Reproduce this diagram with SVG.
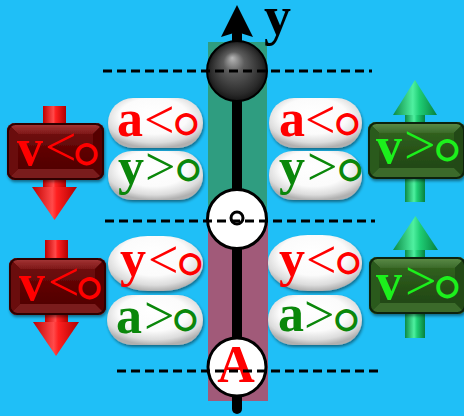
<svg xmlns="http://www.w3.org/2000/svg" width="464" height="416" viewBox="0 0 464 416">
  <defs>
    <radialGradient id="ballGrad" cx="50%" cy="50%" r="50%" fx="42%" fy="28%">
      <stop offset="0" stop-color="#b8b8b8"/>
      <stop offset="0.35" stop-color="#5c5c5c"/>
      <stop offset="0.85" stop-color="#2a2a2a"/>
      <stop offset="1" stop-color="#151515"/>
    </radialGradient>
    <radialGradient id="pillGrad" cx="50%" cy="40%" r="60%" fx="45%" fy="30%">
      <stop offset="0" stop-color="#ffffff"/>
      <stop offset="0.6" stop-color="#fbfbfb"/>
      <stop offset="0.85" stop-color="#dcdcdc"/>
      <stop offset="1" stop-color="#b0b0b0"/>
    </radialGradient>
    <linearGradient id="redShaft" x1="0" y1="0" x2="1" y2="0">
      <stop offset="0" stop-color="#c00000"/>
      <stop offset="0.45" stop-color="#ff4a4a"/>
      <stop offset="0.55" stop-color="#ff2020"/>
      <stop offset="1" stop-color="#b00000"/>
    </linearGradient>
    <linearGradient id="greenShaft" x1="0" y1="0" x2="1" y2="0">
      <stop offset="0" stop-color="#0b8a45"/>
      <stop offset="0.45" stop-color="#4ff0a0"/>
      <stop offset="0.6" stop-color="#1fcf75"/>
      <stop offset="1" stop-color="#07803e"/>
    </linearGradient>
    <linearGradient id="redTop" x1="0" y1="0" x2="0" y2="1">
      <stop offset="0" stop-color="#a83838"/>
      <stop offset="1" stop-color="#7e1818"/>
    </linearGradient>
    <linearGradient id="redFace" x1="0" y1="0" x2="0" y2="1">
      <stop offset="0" stop-color="#6e0c0c"/>
      <stop offset="0.5" stop-color="#5e0404"/>
      <stop offset="1" stop-color="#520000"/>
    </linearGradient>
    <linearGradient id="greenTop" x1="0" y1="0" x2="0" y2="1">
      <stop offset="0" stop-color="#5f8f4a"/>
      <stop offset="1" stop-color="#3c6a2a"/>
    </linearGradient>
    <linearGradient id="greenFace" x1="0" y1="0" x2="0" y2="1">
      <stop offset="0" stop-color="#30601f"/>
      <stop offset="0.5" stop-color="#285218"/>
      <stop offset="1" stop-color="#224814"/>
    </linearGradient>
    <filter id="shadow" x="-20%" y="-20%" width="140%" height="150%">
      <feDropShadow dx="1" dy="2" stdDeviation="1.5" flood-color="#000" flood-opacity="0.45"/>
    </filter>
    <clipPath id="boxClip">
      <rect x="0" y="0" width="97" height="57" rx="8"/>
    </clipPath>

    <!-- bevelled box bodies, drawn at the origin -->
    <g id="redBody">
      <g clip-path="url(#boxClip)">
        <rect x="0" y="0" width="97" height="57" fill="#4a0000"/>
        <polygon points="0,0 97,0 86,11 11,11" fill="url(#redTop)"/>
        <polygon points="0,0 11,11 11,46 0,57" fill="#6a0c0c"/>
        <polygon points="97,0 86,11 86,46 97,57" fill="#560404"/>
        <polygon points="0,57 11,46 86,46 97,57" fill="#7a1c1c"/>
        <rect x="11" y="11" width="75" height="35" fill="url(#redFace)"/>
      </g>
      <rect x="1" y="1" width="95" height="55" rx="7.5" fill="none" stroke="#2e0000" stroke-width="2"/>
    </g>
    <g id="greenBody">
      <g clip-path="url(#boxClip)">
        <rect x="0" y="0" width="97" height="57" fill="#1a3a10"/>
        <polygon points="0,0 97,0 86,11 11,11" fill="url(#greenTop)"/>
        <polygon points="0,0 11,11 11,46 0,57" fill="#2c5a1e"/>
        <polygon points="97,0 86,11 86,46 97,57" fill="#224a16"/>
        <polygon points="0,57 11,46 86,46 97,57" fill="#3a6a2a"/>
        <rect x="11" y="11" width="75" height="35" fill="url(#greenFace)"/>
      </g>
      <rect x="1" y="1" width="95" height="55" rx="7.5" fill="none" stroke="#0e2208" stroke-width="2"/>
    </g>
  </defs>
  <style>
    .guide { stroke: #000; stroke-width: 3; stroke-dasharray: 9 5; fill: none; }
    .pill { fill: url(#pillGrad); filter: url(#shadow); }
    .box { filter: url(#shadow); }
    .lbl { font-family: "Liberation Serif", "Times New Roman", serif; font-weight: bold; font-size: 52px; }
    .rel { font-weight: normal; font-size: 54px; }
    .relBig { font-weight: normal; font-size: 56px; }
    .zero { font-family: "DejaVu Sans", sans-serif; font-weight: normal; font-size: 26px; stroke-width: 2.2; }
    .red { fill: #ff0000; stroke: #ff0000; stroke-width: 0; }
    .dgreen { fill: #0a870a; stroke: #0a870a; stroke-width: 0; }
    .lgreen { fill: #1cf01c; stroke: #1cf01c; stroke-width: 0; }
  </style>

  <!-- sky background -->
  <rect x="0" y="0" width="464" height="416" fill="#1fbff7"/>

  <!-- vertical motion strips: upper and lower halves -->
  <rect x="208" y="42" width="59" height="177" fill="#2f9d80"/>
  <rect x="208" y="219" width="60" height="182" fill="#a15a79"/>

  <!-- y axis -->
  <g id="axis">
    <line x1="237" y1="34" x2="237" y2="409" stroke="#000" stroke-width="10" stroke-linecap="round"/>
    <polygon points="237,5 253,37 237,32 221,37" fill="#000"/>
    <text x="264" y="34" class="lbl" style="font-size:54px" fill="#000">y</text>
  </g>

  <!-- positions on the axis -->
  <g id="top-ball">
    <circle cx="237" cy="71" r="30" fill="url(#ballGrad)" stroke="#000" stroke-width="2"/>
  </g>
  <g id="origin">
    <circle cx="237" cy="219" r="29.5" fill="#fff" stroke="#000" stroke-width="3"/>
    <circle cx="237" cy="218" r="6" fill="#fff" stroke="#000" stroke-width="3"/>
  </g>
  <g id="point-a">
    <circle cx="237" cy="367" r="29" fill="#fff" stroke="#000" stroke-width="3"/>
    <text x="236" y="382" class="lbl" text-anchor="middle" fill="#ff0000">A</text>
  </g>

  <!-- dashed level lines -->
  <g id="connectors">
    <line class="guide" x1="103" y1="71" x2="372" y2="71"/>
    <line class="guide" x1="105" y1="221" x2="375" y2="221"/>
    <line class="guide" x1="117" y1="371" x2="383" y2="371"/>
  </g>

  <!-- velocity arrows -->
  <g id="arrow-down-1">
    <rect x="43" y="106" width="23" height="82" fill="url(#redShaft)"/>
    <polygon points="32,187 77,187 54.5,220" fill="url(#redShaft)"/>
  </g>
  <g id="arrow-down-2">
    <rect x="45" y="240" width="23" height="83" fill="url(#redShaft)"/>
    <polygon points="33,322 79,322 56,356" fill="url(#redShaft)"/>
  </g>
  <g id="arrow-up-1">
    <rect x="405" y="114" width="20" height="88" fill="url(#greenShaft)"/>
    <polygon points="415,80 437,115 393,115" fill="url(#greenShaft)"/>
  </g>
  <g id="arrow-up-2">
    <rect x="405" y="249" width="20" height="89" fill="url(#greenShaft)"/>
    <polygon points="415.5,216 438,250 393,250" fill="url(#greenShaft)"/>
  </g>

  <!-- velocity boxes -->
  <g id="box-v-neg-1">
    <use href="#redBody" x="7" y="123" class="box"/>
    <text class="lbl red" y="165"><tspan x="17">v</tspan><tspan class="relBig" x="45" y="166">&lt;</tspan><tspan class="zero" x="75" y="161">○</tspan></text>
  </g>
  <g id="box-v-neg-2">
    <use href="#redBody" x="9" y="258" class="box"/>
    <text class="lbl red" y="300"><tspan x="19">v</tspan><tspan class="relBig" x="48" y="301">&lt;</tspan><tspan class="zero" x="78" y="295">○</tspan></text>
  </g>
  <g id="box-v-pos-1">
    <use href="#greenBody" x="368" y="122" class="box"/>
    <text class="lbl lgreen" y="163"><tspan x="376">v</tspan><tspan class="relBig" x="404" y="164">&gt;</tspan><tspan class="zero" x="436" y="157">○</tspan></text>
  </g>
  <g id="box-v-pos-2">
    <use href="#greenBody" x="369" y="257" class="box"/>
    <text class="lbl lgreen" y="299"><tspan x="376">v</tspan><tspan class="relBig" x="405" y="300">&gt;</tspan><tspan class="zero" x="436" y="294">○</tspan></text>
  </g>

  <!-- condition pills, upper half -->
  <g id="pill-a-neg-left">
    <rect x="108" y="98" width="95" height="50" rx="25" class="pill"/>
    <text class="lbl red" y="136"><tspan x="117">a</tspan><tspan class="rel" x="144" y="138">&lt;</tspan><tspan class="zero" x="175" y="131">○</tspan></text>
  </g>
  <g id="pill-y-pos-left">
    <rect x="108" y="151" width="95" height="49" rx="24" class="pill"/>
    <text class="lbl dgreen" y="184"><tspan x="118">y</tspan><tspan class="rel" x="145" y="185">&gt;</tspan><tspan class="zero" x="177" y="177">○</tspan></text>
  </g>
  <g id="pill-a-neg-right">
    <rect x="269" y="98" width="93" height="50" rx="25" class="pill"/>
    <text class="lbl red" y="136"><tspan x="279">a</tspan><tspan class="rel" x="305" y="138">&lt;</tspan><tspan class="zero" x="336" y="131">○</tspan></text>
  </g>
  <g id="pill-y-pos-right">
    <rect x="269" y="151" width="93" height="49" rx="24" class="pill"/>
    <text class="lbl dgreen" y="184"><tspan x="279">y</tspan><tspan class="rel" x="307" y="185">&gt;</tspan><tspan class="zero" x="339" y="177">○</tspan></text>
  </g>

  <!-- condition pills, lower half -->
  <g id="pill-y-neg-left">
    <rect x="108" y="236" width="95" height="55" rx="40" ry="27" class="pill"/>
    <text class="lbl red" y="276"><tspan x="120">y</tspan><tspan class="rel" x="148" y="278">&lt;</tspan><tspan class="zero" x="179" y="271">○</tspan></text>
  </g>
  <g id="pill-a-pos-left">
    <rect x="107" y="295" width="96" height="50" rx="25" class="pill"/>
    <text class="lbl dgreen" y="333"><tspan x="116">a</tspan><tspan class="rel" x="144" y="334">&gt;</tspan><tspan class="zero" x="174" y="327">○</tspan></text>
  </g>
  <g id="pill-y-neg-right">
    <rect x="268" y="235" width="94" height="56" rx="40" ry="27" class="pill"/>
    <text class="lbl red" y="276"><tspan x="279">y</tspan><tspan class="rel" x="306" y="278">&lt;</tspan><tspan class="zero" x="337" y="270">○</tspan></text>
  </g>
  <g id="pill-a-pos-right">
    <rect x="268" y="295" width="94" height="50" rx="25" class="pill"/>
    <text class="lbl dgreen" y="331"><tspan x="278">a</tspan><tspan class="rel" x="304" y="333">&gt;</tspan><tspan class="zero" x="335" y="327">○</tspan></text>
  </g>
</svg>
